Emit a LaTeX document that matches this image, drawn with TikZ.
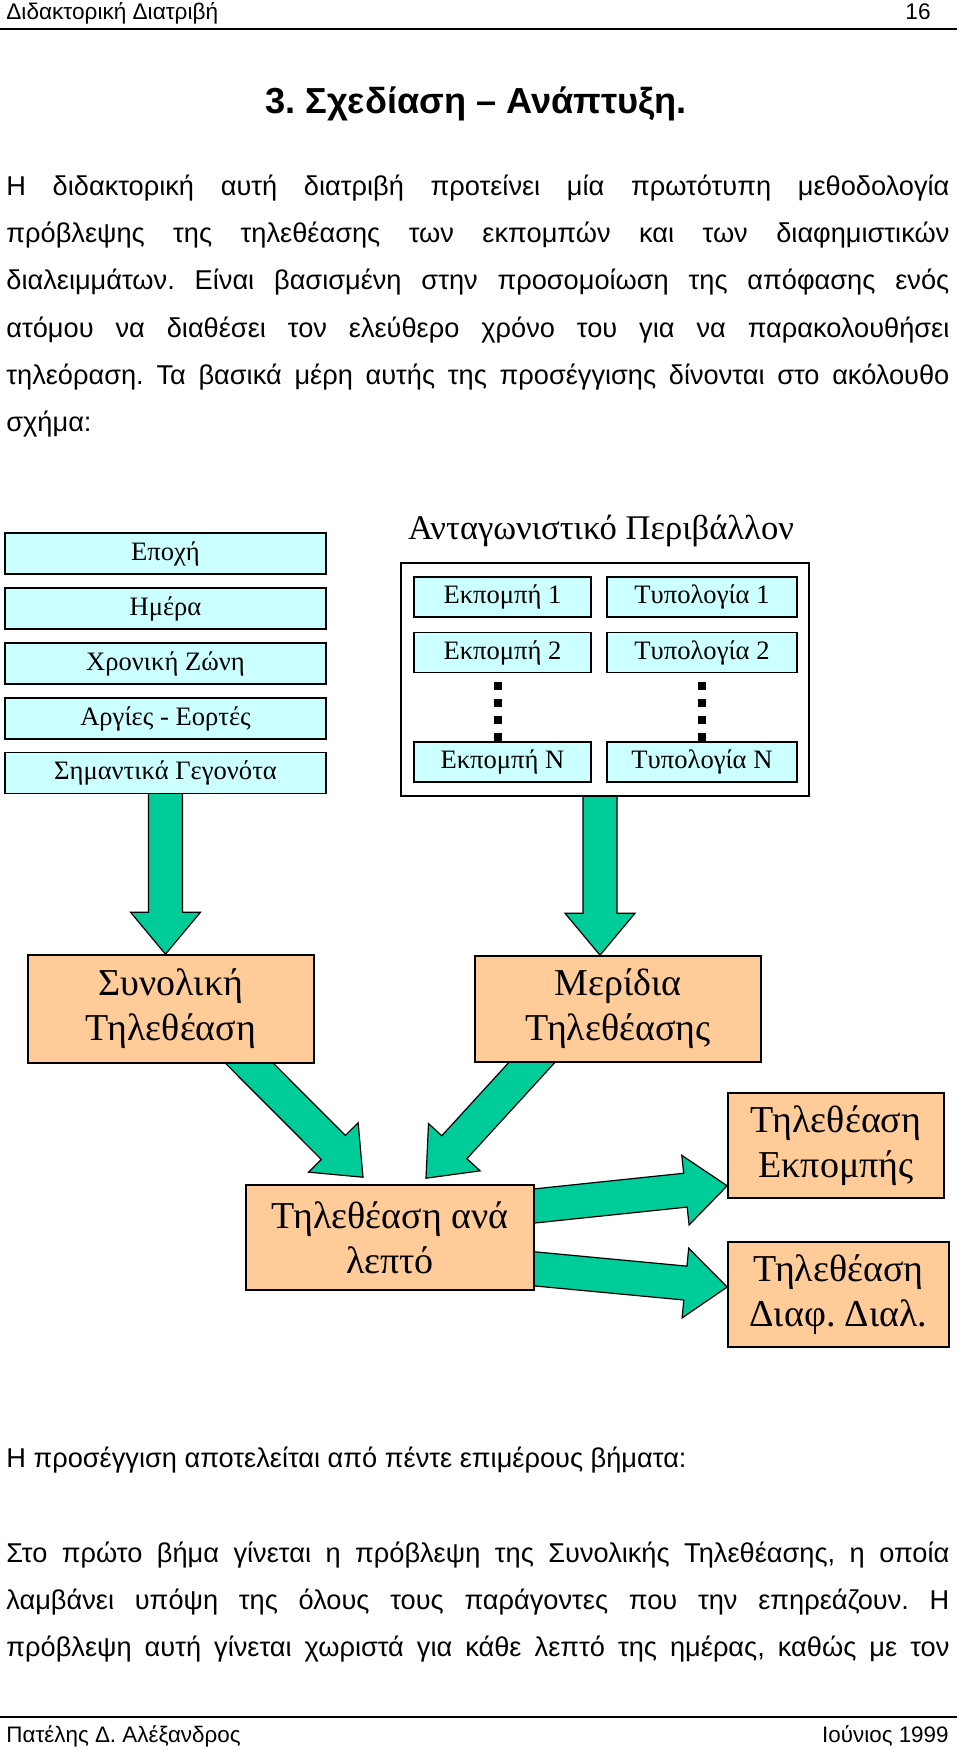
\documentclass[tikz,border=0pt]{standalone}
\usepackage{fontspec}
\setmainfont{Liberation Sans}
\newfontfamily\timesrm{Liberation Serif}
\usetikzlibrary{calc,backgrounds}
\frenchspacing

\definecolor{boxcyan}{HTML}{CCFFFF}
\definecolor{arrgreen}{HTML}{00CC99}
\definecolor{boxorange}{HTML}{FFCC99}

\newcommand{\jline}[1]{\makebox[471.5pt][s]{#1}}
% block arrow from #1 to #2
\newcommand{\fatarrow}[2]{%
  \filldraw[fill=arrgreen, draw=black, line width=0.6pt]
    ($(#1)!8.5pt!90:(#2)$) -- ($(#2)!21pt!(#1)!8.5pt!-90:(#1)$)
    -- ($(#2)!21pt!(#1)!17.5pt!-90:(#1)$) -- (#2)
    -- ($(#2)!21pt!(#1)!17.5pt!90:(#1)$) -- ($(#2)!21pt!(#1)!8.5pt!90:(#1)$)
    -- ($(#1)!8.5pt!-90:(#2)$) -- cycle;}

\begin{document}
\begin{tikzpicture}[x=0.5pt, y=-0.5pt,
  bodytext/.style={anchor=base west, inner sep=0pt, font=\fontsize{13.6}{16}\selectfont},
  cyanbox/.style={draw=black, fill=boxcyan, line width=0.8pt, minimum height=20.5pt, inner sep=0pt, font=\timesrm\fontsize{13.3}{15}\selectfont},
  orangebox/.style={draw=black, fill=boxorange, line width=0.8pt, inner sep=0pt, align=center, font=\timesrm\fontsize{19}{22.5}\selectfont},
  dotline/.style={line width=4pt, dash pattern=on 4pt off 4.5pt, shorten <=4.5pt}]

\useasboundingbox (0,0) rectangle (960,1749);

% header
\node[anchor=base west, inner sep=0pt, font=\fontsize{11.3}{13}\selectfont] (head) at (6,20) {Διδακτορική Διατριβή};
\node[anchor=base east, inner sep=0pt, font=\fontsize{11.3}{13}\selectfont] (page) at (931,20) {16};
\draw[line width=1pt] (0,29) -- (957,29);

\node[anchor=base, inner sep=0pt, font=\bfseries\fontsize{18.1}{21}\selectfont] (title) at (476,114) {3. Σχεδίαση – Ανάπτυξη.};

\node[bodytext] (p1) at (6,196) {\jline{Η διδακτορική αυτή διατριβή προτείνει μία πρωτότυπη μεθοδολογία}};
\node[bodytext] (p2) at (6,243) {\jline{πρόβλεψης της τηλεθέασης των εκπομπών και των διαφημιστικών}};
\node[bodytext] (p3) at (6,290) {\jline{διαλειμμάτων. Είναι βασισμένη στην προσομοίωση της απόφασης ενός}};
\node[bodytext] (p4) at (6,338) {\jline{ατόμου να διαθέσει τον ελεύθερο χρόνο του για να παρακολουθήσει}};
\node[bodytext] (p5) at (6,385) {\jline{τηλεόραση. Τα βασικά μέρη αυτής της προσέγγισης δίνονται στο ακόλουθο}};
\node[bodytext] (p6) at (6,431) {σχήμα:};

% left column
\node[cyanbox, minimum width=160.5pt] (epo) at (165.5,553.5) {Εποχή};
\node[cyanbox, minimum width=160.5pt] (hme) at (165.5,608.5) {Ημέρα};
\node[cyanbox, minimum width=160.5pt] (zon) at (165.5,663.5) {Χρονική Ζώνη};
\node[cyanbox, minimum width=160.5pt] (arg) at (165.5,718.5) {Αργίες - Εορτές};
\node[cyanbox, minimum width=160.5pt] (sim) at (165.5,773) {Σημαντικά Γεγονότα};

% competition frame
\node[anchor=base, inner sep=0pt, font=\timesrm\fontsize{17.3}{20}\selectfont] (envtitle) at (601,539) {Ανταγωνιστικό Περιβάλλον};
\node[draw=black, fill=white, line width=0.8pt, minimum width=204pt, minimum height=116.5pt] (env) at (605,679.5) {};
\node[cyanbox, minimum width=88.5pt, minimum height=20pt] (ek1) at (502.5,597) {Εκπομπή 1};
\node[cyanbox, minimum width=88.5pt, minimum height=20pt] (ek2) at (502.5,652.5) {Εκπομπή 2};
\node[cyanbox, minimum width=88.5pt, minimum height=20pt] (ekN) at (502.5,762) {Εκπομπή Ν};
\node[cyanbox, minimum width=95pt, minimum height=20pt] (ty1) at (702,597) {Τυπολογία 1};
\node[cyanbox, minimum width=95pt, minimum height=20pt] (ty2) at (702,652.5) {Τυπολογία 2};
\node[cyanbox, minimum width=95pt, minimum height=20pt] (tyN) at (702,762) {Τυπολογία Ν};
\draw[dotline] ([xshift=-2.5pt]ek2.south) -- ([xshift=-2.5pt]ekN.north);
\draw[dotline] (ty2.south) -- (tyN.north);

% results
\node[orangebox, minimum width=143pt, minimum height=54pt] (syn) at (171,1009) {Συνολική\\Τηλεθέαση};
\node[orangebox, minimum width=143pt, minimum height=53pt] (mer) at (618,1009) {Μερίδια\\Τηλεθέασης};
\node[orangebox, minimum width=144pt, minimum height=52.5pt] (lep) at (390,1237.5) {Τηλεθέαση ανά\\λεπτό};
\node[orangebox, minimum width=108pt, minimum height=52.5pt] (ekp) at (836,1145.5) {Τηλεθέαση\\Εκπομπής};
\node[orangebox, minimum width=110.5pt, minimum height=52.5pt] (diaf) at (838.5,1294.5) {Τηλεθέαση\\Διαφ. Διαλ.};

\coordinate (a1s) at ([yshift=4pt]sim.south);
\coordinate (a1e) at (sim.south |- syn.north);
\coordinate (a2s) at ([xshift=-2.5pt,yshift=4pt]env.south);
\coordinate (a2e) at (a2s |- mer.north);
\coordinate (a3s) at ([xshift=31pt,yshift=8.5pt]syn.south);
\coordinate (a3e) at ([xshift=-13.5pt,yshift=3.5pt]lep.north);
\coordinate (a4s) at ([xshift=-35pt,yshift=9pt]mer.south);
\coordinate (a4e) at ([xshift=18pt,yshift=3pt]lep.north);
\coordinate (a5s) at ([xshift=-10pt,yshift=14.75pt]lep.east);
\coordinate (a5e) at ([yshift=6.5pt]ekp.south west);
\coordinate (a6s) at ([xshift=-10pt,yshift=-14.75pt]lep.east);
\coordinate (a6e) at ([yshift=3.75pt]diaf.west);

\begin{pgfonlayer}{background}
\fatarrow{a1s}{a1e}
\fatarrow{a2s}{a2e}
\fatarrow{a3s}{a3e}
\fatarrow{a4s}{a4e}
\fatarrow{a5s}{a5e}
\fatarrow{a6s}{a6e}
\end{pgfonlayer}

\node[bodytext] (q1) at (6,1467) {Η προσέγγιση αποτελείται από πέντε επιμέρους βήματα:};
\node[bodytext] (q2) at (6,1562) {\jline{Στο πρώτο βήμα γίνεται η πρόβλεψη της Συνολικής Τηλεθέασης, η οποία}};
\node[bodytext] (q3) at (6,1609) {\jline{λαμβάνει υπόψη της όλους τους παράγοντες που την επηρεάζουν. Η}};
\node[bodytext] (q4) at (6,1656) {\jline{πρόβλεψη αυτή γίνεται χωριστά για κάθε λεπτό της ημέρας, καθώς με τον}};

% footer
\draw[line width=1pt] (0,1717) -- (957,1717);
\node[anchor=base west, inner sep=0pt, font=\fontsize{11.2}{13}\selectfont] (author) at (6,1742) {Πατέλης Δ. Αλέξανδρος};
\node[anchor=base east, inner sep=0pt, font=\fontsize{11.2}{13}\selectfont] (date) at (949,1742) {Ιούνιος 1999};

\end{tikzpicture}
\end{document}
